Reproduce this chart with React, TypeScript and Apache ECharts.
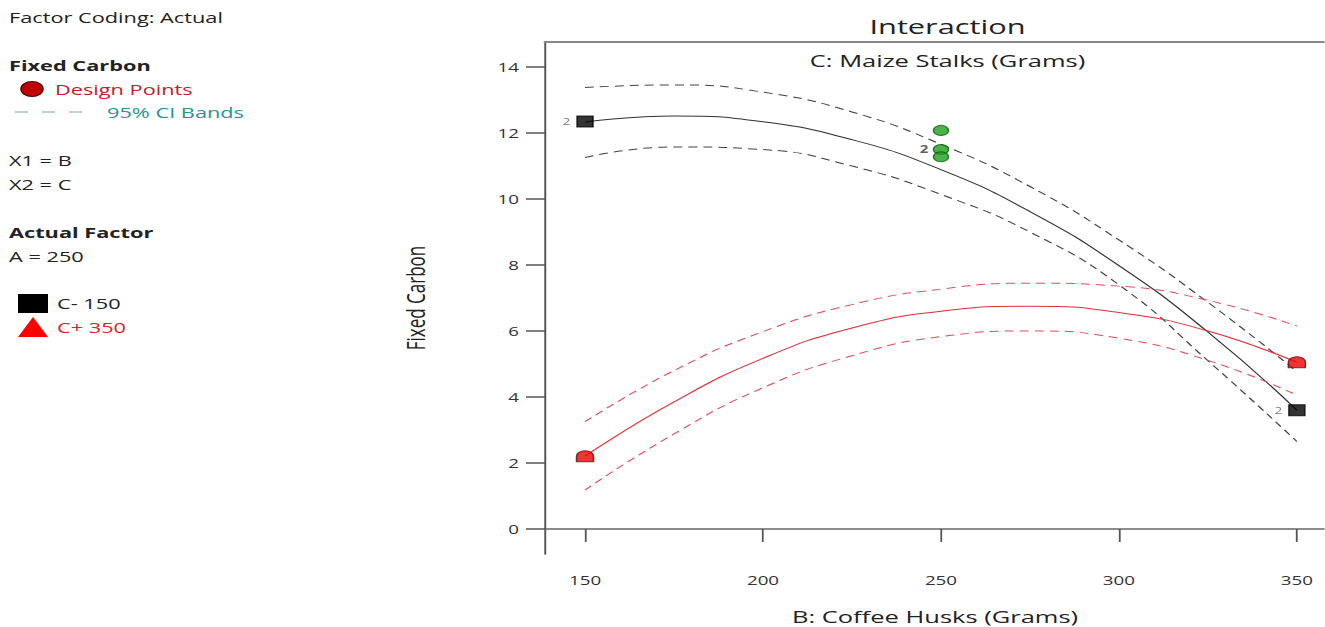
import React, { useEffect, useRef } from "react";
import * as echarts from "echarts";

// ---- data ----
const xGrid = [150, 175, 200, 225, 250, 275, 300, 325, 350];
const c150Fit = [12.33, 12.52, 12.34, 11.8, 10.89, 9.62, 7.98, 5.97, 3.6];
const c150Upper = [13.38, 13.46, 13.24, 12.64, 11.66, 10.38, 8.76, 6.87, 4.77];
const c150Lower = [11.26, 11.58, 11.5, 11.0, 10.14, 9.0, 7.4, 5.1, 2.65];
const c350Fit = [2.21, 3.85, 5.17, 6.09, 6.6, 6.75, 6.56, 6.0, 5.05];
const c350Upper = [3.25, 4.8, 5.98, 6.8, 7.27, 7.45, 7.36, 6.93, 6.15];
const c350Lower = [1.18, 2.88, 4.28, 5.25, 5.83, 6.0, 5.78, 5.11, 4.06];

const c150PointsX = [150, 350];
const c150PointsY = [12.35, 3.6];
const c150PointsCount = ["2", "2"];
const c350PointsX = [150, 350];
const c350PointsY = [2.2, 5.05];
const centerPointsX = [250, 250, 250];
const centerPointsY = [12.08, 11.5, 11.28];
const centerPointsCount = ["", "2", ""];

const xTicks = [150, 200, 250, 300, 350];
const yTicks = [0, 2, 4, 6, 8, 10, 12, 14];

const pairs = (xs: number[], ys: number[]) => xs.map((x, i) => [x, ys[i]]);

const FONT = "'Open Sans', 'Noto Sans', sans-serif";
const S = 1.5; // the reference is stretched horizontally
const W = 1325 / S;
const H = 627;

export default function App() {
  const ref = useRef<HTMLDivElement>(null);
  useEffect(() => {
    if (!ref.current) return;
    const chart = echarts.init(ref.current, null, { renderer: "svg", width: W, height: H });
    const lineSeries = (name: string, ys: number[], color: string, dashed: boolean) => ({
      name,
      type: "line",
      data: pairs(xGrid, ys),
      smooth: true,
      showSymbol: false,
      symbol: "none",
      silent: true,
      lineStyle: { color, width: 1, type: dashed ? [6, 4] : "solid" },
      z: 2,
    });
    const legendY = 112;
    const dashes: any[] = [];
    for (let i = 0; i < 3; i++) {
      dashes.push({
        type: "line",
        shape: { x1: 10 + i * 18, y1: legendY, x2: 18.7 + i * 18, y2: legendY },
        style: { stroke: "#8fb3b3", lineWidth: 1.2 },
      });
    }
    const txt = (text: string, x: number, y: number, opts: any = {}) => ({
      type: "text",
      x,
      y,
      style: {
        text,
        fill: opts.fill || "#222",
        font: `${opts.weight || "normal"} ${opts.size || 14.5}px ${FONT}`,
        textAlign: opts.align || "left",
        verticalAlign: "middle",
      },
    });
    chart.setOption({
      animation: false,
      backgroundColor: "#ffffff",
      title: [
        {
          text: "Interaction",
          left: 940 / S,
          top: 11,
          textAlign: "center",
          textStyle: { fontFamily: FONT, fontSize: 20.5, fontWeight: "normal", color: "#222" },
        },
        {
          text: "C: Maize Stalks (Grams)",
          left: 940 / S,
          top: 47,
          textAlign: "center",
          textStyle: { fontFamily: FONT, fontSize: 17, fontWeight: "normal", color: "#222" },
        },
      ],
      grid: {
        left: 545 / S,
        top: 42,
        right: 0,
        bottom: 73,
        containLabel: false,
        outerBoundsMode: "none",
      },
      xAxis: [
        {
          type: "value",
          min: 138.75,
          max: 357.9,
          name: "B: Coffee Husks (Grams)",
          nameLocation: "middle",
          nameGap: 54,
          nameTextStyle: { fontFamily: FONT, fontSize: 17, lineHeight: 17, color: "#222" },
          axisLine: { show: true, lineStyle: { color: "#666", width: 1.5 } },
          axisTick: { show: true, customValues: xTicks, length: 13, lineStyle: { color: "#555", width: 1.2 } },
          axisLabel: { customValues: xTicks, fontFamily: FONT, fontSize: 12.5, color: "#333", margin: 20 },
          splitLine: { show: false },
        },
        {
          type: "value",
          position: "top",
          min: 138.75,
          max: 357.9,
          axisLine: { show: true, lineStyle: { color: "#888", width: 2 } },
          axisTick: { show: false },
          axisLabel: { show: false },
          splitLine: { show: false },
        },
      ],
      yAxis: {
        type: "value",
        min: -0.76,
        max: 14.76,
        name: "Fixed Carbon",
        nameLocation: "middle",
        nameGap: 78,
        nameTextStyle: { fontFamily: FONT, fontSize: 17, color: "#222" },
        axisLine: { show: true, lineStyle: { color: "#555", width: 1.3 } },
        axisTick: { show: true, customValues: yTicks, length: 19 / S, lineStyle: { color: "#555", width: 1.5 } },
        axisLabel: { customValues: yTicks, fontFamily: FONT, fontSize: 12.5, color: "#333", margin: 26 / S },
        splitLine: { show: false },
      },
      series: [
        lineSeries("C- 150 upper", c150Upper, "#444", true),
        lineSeries("C- 150", c150Fit, "#333", false),
        lineSeries("C- 150 lower", c150Lower, "#444", true),
        lineSeries("C+ 350 upper", c350Upper, "#e0505a", true),
        lineSeries("C+ 350", c350Fit, "#e0303a", false),
        lineSeries("C+ 350 lower", c350Lower, "#e0505a", true),
        {
          name: "C- 150 points",
          type: "scatter",
          z: 5,
          symbol: "rect",
          symbolSize: [16 / S, 11],
          itemStyle: { color: "#000", borderColor: "#000" },
          data: c150PointsX.map((x, i) => ({
            value: [x, c150PointsY[i]],
            label: { show: true, formatter: c150PointsCount[i] },
          })),
          label: { position: "left", distance: 4, fontSize: 9, color: "#555", fontFamily: FONT },
        },
        {
          name: "C+ 350 points",
          type: "scatter",
          z: 5,
          symbol: "path://M0 12 L0 6 C0 2 4 0 8 0 C12 0 16 2 16 6 L16 12 Z",
          symbolKeepAspect: false,
          symbolSize: [17 / S, 11],
          itemStyle: { color: "#ee0000", borderColor: "#5a1010", borderWidth: 1 },
          data: pairs(c350PointsX, c350PointsY),
        },
        {
          name: "Center points",
          type: "scatter",
          z: 5,
          symbol: "circle",
          symbolSize: [15 / S, 10],
          itemStyle: { color: "#1e9e1e", borderColor: "#0d5a0d", borderWidth: 1 },
          data: centerPointsX.map((x, i) => ({
            value: [x, centerPointsY[i]],
            label: { show: centerPointsCount[i] !== "", formatter: centerPointsCount[i] },
          })),
          label: { position: "left", distance: 3, fontSize: 10, fontWeight: "bold", color: "#333", fontFamily: FONT },
        },
      ],
      graphic: [
        txt("Factor Coding: Actual", 9 / S, 17),
        txt("Fixed Carbon", 9 / S, 65, { weight: "bold" }),
        {
          type: "ellipse",
          shape: { cx: 32 / S, cy: 89, rx: 11 / S, ry: 7.5 },
          style: { fill: "#c00000", stroke: "#5a0000", lineWidth: 1 },
        },
        txt("Design Points", 55 / S, 89, { fill: "#c0202a" }),
        ...dashes,
        txt("95% CI Bands", 107 / S, 112, { fill: "#2a9292" }),
        txt("X1 = B", 9 / S, 160),
        txt("X2 = C", 9 / S, 184),
        txt("Actual Factor", 9 / S, 232, { weight: "bold" }),
        txt("A = 250", 9 / S, 256),
        {
          type: "rect",
          shape: { x: 18 / S, y: 294, width: 30 / S, height: 19 },
          style: { fill: "#000" },
        },
        txt("C- 150", 57 / S, 303),
        {
          type: "polygon",
          shape: { points: [[33 / S, 317], [18 / S, 337], [48 / S, 337]] },
          style: { fill: "#ff0000" },
        },
        txt("C+ 350", 57 / S, 327, { fill: "#e0202a" }),
      ],
    });
    return () => chart.dispose();
  }, []);
  return (
    <div
      style={{ position: "absolute", left: 0, top: 0, width: 1325, height: H, overflow: "hidden", background: "#fff" }}
    >
      <div
        ref={ref}
        style={{ width: W, height: H, transform: `scaleX(${S})`, transformOrigin: "0 0" }}
      />
    </div>
  );
}
